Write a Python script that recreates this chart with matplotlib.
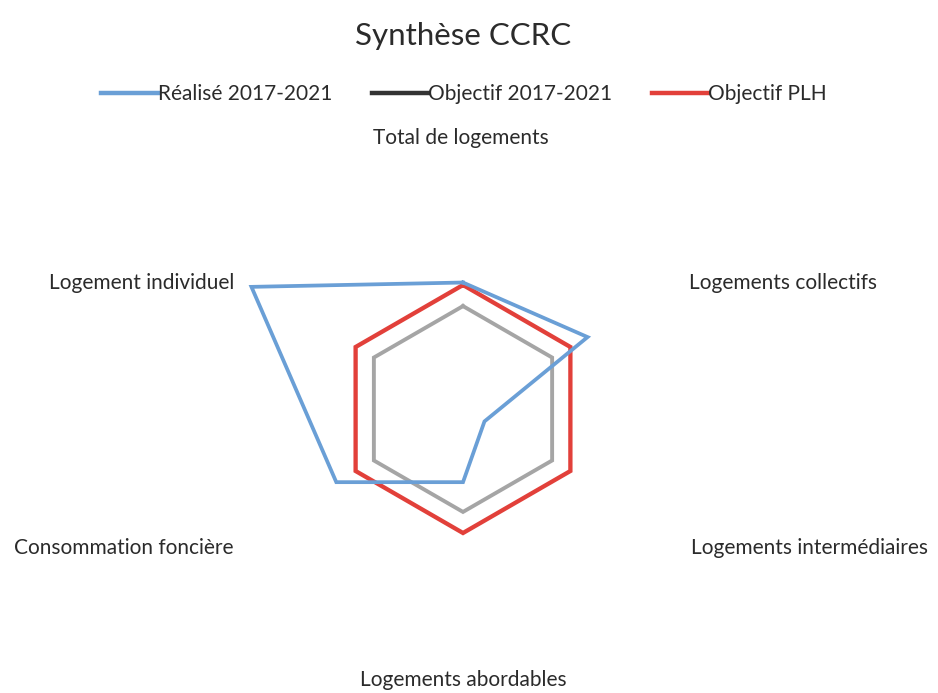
import numpy as np
import matplotlib.pyplot as plt
from matplotlib.lines import Line2D

plt.rcParams['font.family'] = ['Lato', 'DejaVu Sans']

# axes, clockwise from the top
categories = ["Total de logements", "Logements collectifs", "Logements intermédiaires",
              "Logements abordables", "Consommation foncière", "Logement individuel"]
realise = [1.02, 1.16, 0.20, 0.59, 1.18, 1.97]      # Réalisé 2017-2021
objectif = [0.83, 0.83, 0.83, 0.83, 0.83, 0.83]     # Objectif 2017-2021
plh = [1.0, 1.0, 1.0, 1.0, 1.0, 1.0]                # Objectif PLH
r_max = 2.0

fig = plt.figure(figsize=(9.38, 6.93), dpi=100)
ax = fig.add_axes([215/938, 36/693, 496/938, 496/693], projection='polar')
ax.set_theta_zero_location('N')
ax.set_theta_direction(-1)

angles = np.linspace(0, 2*np.pi, len(categories), endpoint=False)
closed = np.append(angles, angles[0])

def close(v):
    return list(v) + [v[0]]

ax.plot(closed, close(objectif), color='#A5A5A5', lw=2.8, solid_joinstyle='miter')
ax.plot(closed, close(plh), color='#E2403A', lw=3.1, solid_joinstyle='miter')
ax.plot(closed, close(realise), color='#6A9FD6', lw=2.7, solid_joinstyle='miter')

ax.set_ylim(0, r_max)
ax.set_xticks(angles)
ax.set_xticklabels([])
ax.set_yticks([])
ax.grid(False)
ax.spines['polar'].set_visible(False)

# category labels (Excel puts them outside the plot area)
label_pos = [(461, 138), (783, 283), (809, 548), (463, 680), (124, 548), (142, 283)]
for name, (px, py) in zip(categories, label_pos):
    fig.text(px/938, 1 - py/693, name, ha='center', va='center', fontsize=15, color='#2b2b2b')

fig.text(463/938, 1 - 36/693, "Synthèse CCRC", ha='center', va='center', fontsize=22.5, color='#2b2b2b')

handles = [Line2D([], [], color='#6A9FD6', lw=3.2),
           Line2D([], [], color='#333333', lw=3.2),
           Line2D([], [], color='#E2403A', lw=3.2)]
fig.legend(handles, ["Réalisé 2017-2021", "Objectif 2017-2021", "Objectif PLH"],
           loc='center', bbox_to_anchor=(464/938, 1 - 94/693), ncol=3, frameon=False,
           fontsize=15, handlelength=2.7, handletextpad=0.0, columnspacing=1.9,
           labelcolor='#2b2b2b')

fig.savefig('out.png', dpi=100, facecolor='white')
